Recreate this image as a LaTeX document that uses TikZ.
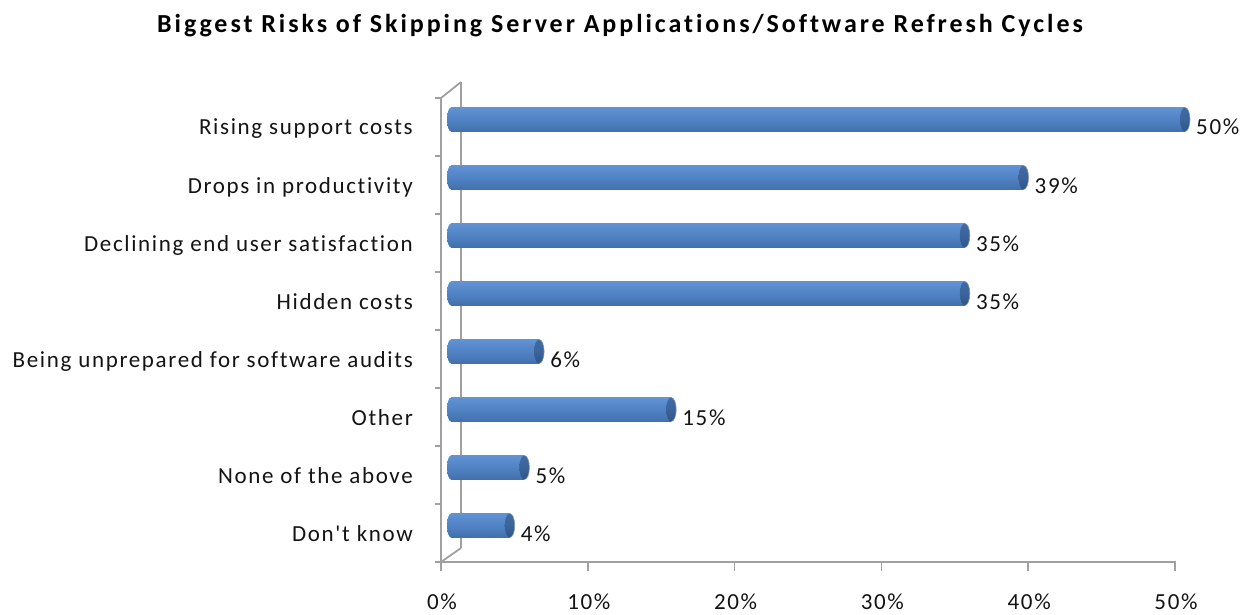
\documentclass[tikz,border=0pt]{standalone}
\usepackage{fontspec}
\setmainfont{Carlito}
\usetikzlibrary{calc}

\definecolor{wallgray}{RGB}{160,160,160}
\definecolor{capblue}{RGB}{58,102,158}
\definecolor{capedge}{RGB}{44,80,128}
\definecolor{txt}{RGB}{20,20,20}

% top-to-bottom look of a cylinder bar (0bp = bottom)
\pgfdeclareverticalshading{barshade}{100bp}{%
  color(0bp)=(capedge);
  color(12bp)=(capblue);
  color(45bp)=({rgb,255:red,78;green,127;blue,192});
  color(75bp)=({rgb,255:red,96;green,146;blue,212});
  color(92bp)=({rgb,255:red,104;green,150;blue,210});
  color(100bp)=({rgb,255:red,90;green,128;blue,180})}
\pgfdeclareverticalshading{capshade}{100bp}{%
  color(0bp)=({rgb,255:red,38;green,70;blue,112});
  color(50bp)=({rgb,255:red,58;green,100;blue,155});
  color(100bp)=({rgb,255:red,70;green,115;blue,170})}

\newfontfamily\labelfont[LetterSpace=7.2, Ligatures=NoCommon]{Carlito}
\newfontfamily\titlefont[LetterSpace=11.3, Ligatures=NoCommon]{Carlito}

\tikzset{
  wall/.style={draw=wallgray, line width=1.8pt},
  tickmark/.style={draw=wallgray, line width=1.5pt},
  catlabel/.style={anchor=base east, font=\labelfont\fontsize{23}{27}\selectfont, text=txt, inner sep=0pt},
  vallabel/.style={anchor=base west, font=\labelfont\fontsize{23}{27}\selectfont, text=txt, inner sep=0pt},
  axlabel/.style={anchor=base, font=\labelfont\fontsize{23}{27}\selectfont, text=txt, inner sep=0pt},
  charttitle/.style={anchor=base, font=\titlefont\bfseries\fontsize{26}{30}\selectfont, text=black, inner sep=0pt}
}

\begin{document}
\begin{tikzpicture}[x=1pt, y=-1pt]
  \useasboundingbox[fill=white] (0,0) rectangle (1255,615);

  % title
  \node[charttitle] (title) at (620,33) {Biggest Risks of Skipping Server Applications/Software Refresh Cycles};

  % side wall: front edge, back edge and the two depth diagonals
  \coordinate (ftop) at (441,98);
  \coordinate (fbot) at (441,562);
  \coordinate (btop) at (461,82);
  \coordinate (bbot) at (461,548);
  \coordinate (xend) at (1176,562);
  \draw[wall] (ftop) -- (fbot);
  \draw[wall] (btop) -- (bbot);
  \draw[wall] (ftop) -- (btop);
  \draw[wall] (fbot) -- (bbot);
  % horizontal value axis
  \draw[wall] (fbot) -- (xend);

  % category ticks on the front edge
  \foreach \k in {0,...,8} {
    \draw[tickmark] (435,98+58*\k) -- (441,98+58*\k);
  }
  % value ticks and their labels
  \foreach \k/\lab in {0/0\%,1/10\%,2/20\%,3/30\%,4/40\%,5/50\%} {
    \draw[tickmark] (441+146.8*\k,562) -- (441+146.8*\k,571);
    \node[axlabel] (xl\k) at (442+146.8*\k,609) {\lab};
  }

  % bars: index / value / category text
  \foreach \i/\v/\name in {
      0/50/Rising support costs,
      1/39/Drops in productivity,
      2/35/Declining end user satisfaction,
      3/35/Hidden costs,
      4/6/Being unprepared for software audits,
      5/15/Other,
      6/5/None of the above,
      7/4/Don't know} {
    \pgfmathsetmacro{\yc}{119.5+58*\i}
    \pgfmathsetmacro{\xe}{451+14.68*\v}
    % left rounded end and body
    \path[shading=barshade] (451,\yc) ellipse [x radius=4, y radius=12];
    \path[shading=barshade] (451,\yc-12) rectangle (\xe,\yc+12);
    % right end cap
    \path[shading=capshade] (\xe,\yc) ellipse [x radius=5, y radius=12];
    \draw[capedge!60!white, line width=0.6pt] (\xe,\yc-12) arc[start angle=-90, end angle=90, x radius=5, y radius=12];
    % labels
    \node[catlabel] (cat\i) at (413,135+58*\i) {\name};
    \node[vallabel] (val\i) at (\xe+11,135+58*\i) {\v\%};
  }
\end{tikzpicture}
\end{document}
